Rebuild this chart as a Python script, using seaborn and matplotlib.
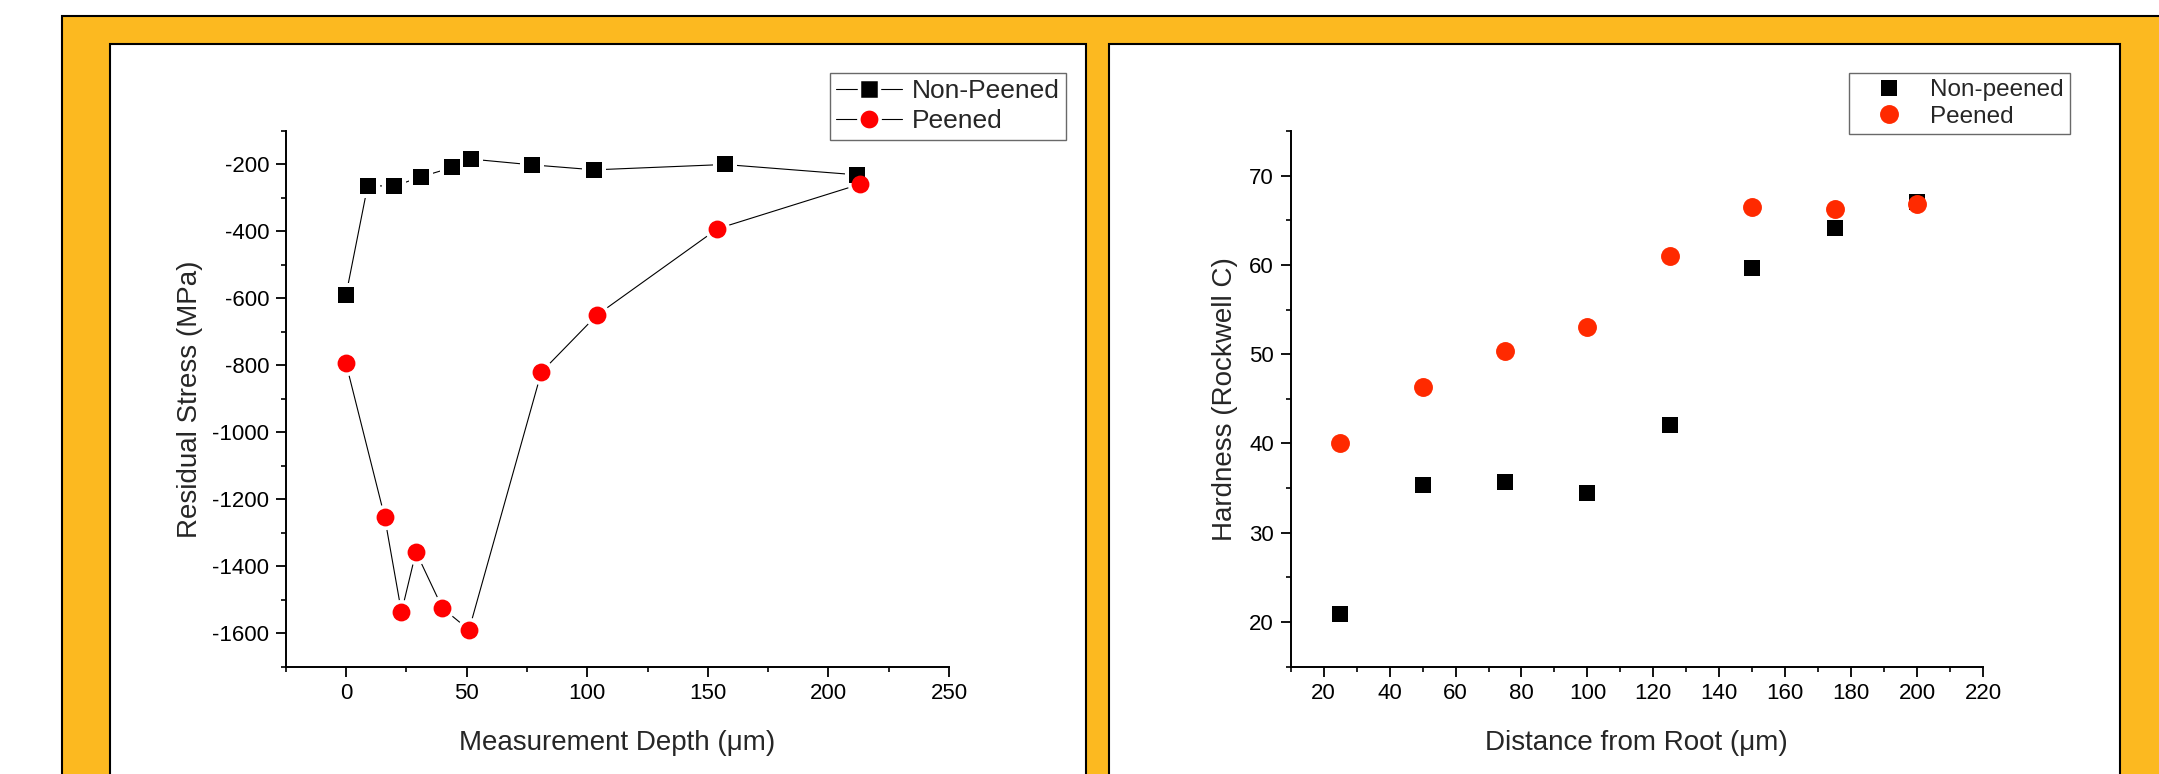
import numpy as np
import pandas as pd
import matplotlib
matplotlib.use("Agg")
import matplotlib.pyplot as plt
import seaborn as sns
from matplotlib.patches import Rectangle
from matplotlib.lines import Line2D
from matplotlib.ticker import MultipleLocator

# ---------------- data ----------------
# Left chart: residual stress vs measurement depth
depth_non_peened = [0, 9, 20, 31, 44, 52, 77, 103, 157, 212]
stress_non_peened = [-590, -263, -265, -237, -209, -184, -201, -216, -200, -231]
depth_peened = [0, 16, 23, 29, 40, 51, 81, 104, 154, 213]
stress_peened = [-794, -1252, -1537, -1357, -1525, -1590, -820, -650, -392, -259]

# Right chart: hardness vs distance from root
distance = [25, 50, 75, 100, 125, 150, 175, 200]
hardness_non_peened = [20.9, 35.3, 35.7, 34.5, 42.1, 59.7, 64.1, 67.1]
hardness_peened = [40.0, 46.3, 50.4, 53.0, 61.0, 66.5, 66.3, 66.8]

left_labels = ["Non-Peened", "Peened"]
right_labels = ["Non-peened", "Peened"]

# ---------------- style ----------------
sns.set_style("ticks")
plt.rcParams['font.family'] = ['Liberation Sans', 'DejaVu Sans']
plt.rcParams['axes.unicode_minus'] = False

W, H = 2159, 774
fig = plt.figure(figsize=(W / 100, H / 100), dpi=100, facecolor='white')


def px_rect(x0, y0, x1, y1, **kw):
    return Rectangle((x0 / W, 1 - y1 / H), (x1 - x0) / W, (y1 - y0) / H,
                     transform=fig.transFigure, **kw)


ORANGE = '#FCB920'
fig.add_artist(px_rect(61.7, 15.7, 2300, 900, facecolor=ORANGE, edgecolor='black', lw=1.5, zorder=-3))
fig.add_artist(px_rect(110, 44, 1086, 900, facecolor='white', edgecolor='black', lw=1.5, zorder=-2))
fig.add_artist(px_rect(1109, 44, 2120, 900, facecolor='white', edgecolor='black', lw=1.5, zorder=-2))

ax_top, ax_bot = 131, 666.7
ax1 = fig.add_axes([285.7 / W, 1 - ax_bot / H, (949 - 285.7) / W, (ax_bot - ax_top) / H])
ax2 = fig.add_axes([1290.7 / W, 1 - ax_bot / H, (1983 - 1290.7) / W, (ax_bot - ax_top) / H])

TICK_FS = 16
for ax in (ax1, ax2):
    ax.set_facecolor('none')
    sns.despine(ax=ax)
    for s in ('left', 'bottom'):
        ax.spines[s].set_linewidth(1.4)
        ax.spines[s].set_color('black')
    ax.tick_params(which='major', direction='out', length=7, width=1.3, labelsize=TICK_FS,
                   pad=5, color='black', labelcolor='black')
    ax.tick_params(which='minor', direction='out', length=3.5, width=1.2, color='black')

# ---------------- left chart ----------------
df_lnp = pd.DataFrame({'x': depth_non_peened, 'y': stress_non_peened})
df_lp = pd.DataFrame({'x': depth_peened, 'y': stress_peened})

for d in (df_lnp, df_lp):
    sns.lineplot(data=d, x='x', y='y', ax=ax1, color='black', lw=0.8,
                 estimator=None, sort=False, zorder=2)
# white halos so the connecting lines stop short of the symbols
sns.scatterplot(data=df_lnp, x='x', y='y', ax=ax1, marker='s', s=290, color='white',
                linewidth=0, zorder=3)
sns.scatterplot(data=df_lp, x='x', y='y', ax=ax1, marker='o', s=330, color='white',
                linewidth=0, zorder=3)
sns.scatterplot(data=df_lnp, x='x', y='y', ax=ax1, marker='s', s=128, color='black',
                linewidth=0, zorder=4)
sns.scatterplot(data=df_lp, x='x', y='y', ax=ax1, marker='o', s=165, color='#FF0000',
                linewidth=0, zorder=5)

ax1.set_xlim(-25, 250)
ax1.set_ylim(-1700, -100)
ax1.xaxis.set_major_locator(MultipleLocator(50))
ax1.xaxis.set_minor_locator(MultipleLocator(25))
ax1.yaxis.set_minor_locator(MultipleLocator(100))
ax1.set_yticks(np.arange(-1600, -199, 200))
ax1.set_xlabel('Measurement Depth (μm)', fontsize=20)
ax1.set_ylabel('Residual Stress (MPa)', fontsize=20)
ax1.xaxis.set_label_coords(0.5, -(729.7 - ax_bot) / (ax_bot - ax_top))
ax1.yaxis.set_label_coords((203 - 285.7) / (949 - 285.7), 0.5)

h1 = [Line2D([], [], color='black', lw=0.8, marker='s', markersize=13.8,
             markerfacecolor='black', markeredgecolor='white', markeredgewidth=2.5),
      Line2D([], [], color='black', lw=0.8, marker='o', markersize=15.3,
             markerfacecolor='#FF0000', markeredgecolor='white', markeredgewidth=2.5)]
leg1 = ax1.legend(h1, left_labels, loc='upper right',
                  bbox_to_anchor=(1066 / W, 1 - 72.5 / H), bbox_transform=fig.transFigure,
                  borderaxespad=0, fontsize=19, frameon=True, fancybox=False, shadow=False,
                  handlelength=2.5, handletextpad=0.35, borderpad=0.25, labelspacing=0.22)
leg1.get_frame().set_edgecolor('#444444')
leg1.get_frame().set_linewidth(1.0)

# ---------------- right chart ----------------
df_rnp = pd.DataFrame({'x': distance, 'y': hardness_non_peened})
df_rp = pd.DataFrame({'x': distance, 'y': hardness_peened})
sns.scatterplot(data=df_rnp, x='x', y='y', ax=ax2, marker='s', s=135, color='black',
                linewidth=0, zorder=4)
sns.scatterplot(data=df_rp, x='x', y='y', ax=ax2, marker='o', s=185, color='#FF2A00',
                linewidth=0, zorder=5)

ax2.set_xlim(10, 220)
ax2.set_ylim(15, 75)
ax2.set_xticks(np.arange(20, 221, 20))
ax2.xaxis.set_minor_locator(MultipleLocator(10))
ax2.set_yticks(np.arange(20, 71, 10))
ax2.yaxis.set_minor_locator(MultipleLocator(5))
ax2.set_xlabel('Distance from Root (μm)', fontsize=20)
ax2.set_ylabel('Hardness (Rockwell C)', fontsize=20)
ax2.xaxis.set_label_coords(0.5, -(729.7 - ax_bot) / (ax_bot - ax_top))
ax2.yaxis.set_label_coords((1238 - 1290.7) / (1983 - 1290.7), 0.5)

h2 = [Line2D([], [], lw=0, marker='s', markersize=11.6, markerfacecolor='black',
             markeredgewidth=0),
      Line2D([], [], lw=0, marker='o', markersize=13.6, markerfacecolor='#FF2A00',
             markeredgewidth=0)]
leg2 = ax2.legend(h2, right_labels, loc='upper right',
                  bbox_to_anchor=(2070 / W, 1 - 73 / H), bbox_transform=fig.transFigure,
                  borderaxespad=0, fontsize=17.5, frameon=True, fancybox=False, shadow=False,
                  handlelength=2.8, handletextpad=0.3, borderpad=0.25, labelspacing=0.2)
leg2.get_frame().set_edgecolor('#444444')
leg2.get_frame().set_linewidth(1.0)

fig.savefig('out.png', dpi=100, facecolor='white')
